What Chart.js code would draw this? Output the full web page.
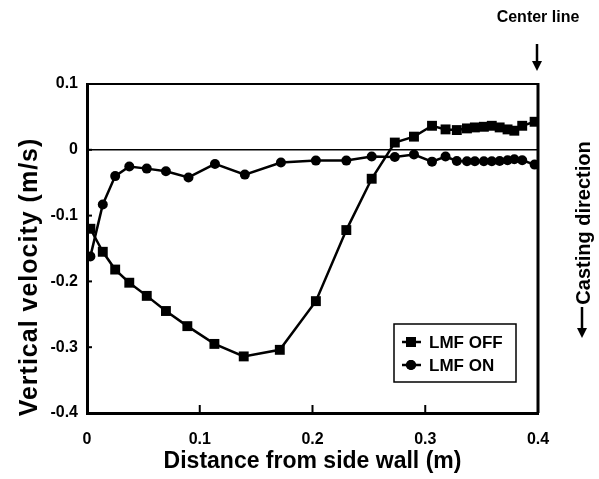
<!DOCTYPE html>
<html>
<head>
<meta charset="utf-8">
<script src="https://cdn.jsdelivr.net/npm/chart.js@4/dist/chart.umd.min.js"></script>
<style>
  html, body { margin: 0; padding: 0; background: #fff; }
  #wrap { width: 599px; height: 479px; }
</style>
</head>
<body>
<div id="wrap"><canvas id="myChart" width="599" height="479"></canvas></div>
<script>
// distance from side wall (m)
const offX = [0.003, 0.014, 0.025, 0.0375, 0.053, 0.070, 0.089, 0.113, 0.139, 0.171, 0.203, 0.230, 0.2525, 0.273, 0.290, 0.306, 0.318, 0.328, 0.337, 0.344, 0.352, 0.359, 0.366, 0.373, 0.379, 0.386, 0.397];
const offY = [-0.120, -0.155, -0.182, -0.202, -0.222, -0.245, -0.268, -0.295, -0.314, -0.304, -0.230, -0.122, -0.044, 0.011, 0.020, 0.0365, 0.031, 0.030, 0.0325, 0.034, 0.035, 0.0365, 0.034, 0.031, 0.029, 0.0365, 0.0426];
const onX = [0.003, 0.014, 0.025, 0.0375, 0.053, 0.070, 0.090, 0.1135, 0.140, 0.172, 0.203, 0.230, 0.2525, 0.273, 0.290, 0.306, 0.318, 0.328, 0.337, 0.344, 0.352, 0.359, 0.366, 0.373, 0.379, 0.386, 0.397];
const onY = [-0.162, -0.083, -0.040, -0.0255, -0.0286, -0.0326, -0.042, -0.0215, -0.0377, -0.0194, -0.0164, -0.0164, -0.0103, -0.011, -0.0072, -0.018, -0.0103, -0.017, -0.0174, -0.0174, -0.0174, -0.0174, -0.017, -0.016, -0.0143, -0.016, -0.0225];
const seriesNames = ["LMF OFF", "LMF ON"];
const xTicks = [0, 0.1, 0.2, 0.3, 0.4];
const yTicks = [-0.4, -0.3, -0.2, -0.1, 0, 0.1];

const FONT = "'Liberation Sans', Arial, sans-serif";

function pairs(xs, ys) {
  return xs.map((x, i) => ({ x: x, y: ys[i] }));
}

function downArrow(ctx, x, y0, y1) {
  ctx.lineWidth = 2.5;
  ctx.beginPath();
  ctx.moveTo(x, y0);
  ctx.lineTo(x, y1 - 8);
  ctx.stroke();
  ctx.beginPath();
  ctx.moveTo(x - 5, y1 - 10);
  ctx.lineTo(x + 5, y1 - 10);
  ctx.lineTo(x, y1);
  ctx.closePath();
  ctx.fill();
}

// frame, inner ticks, legend and side notes
const extras = {
  id: "extras",
  afterDraw(chart) {
    const ctx = chart.ctx;
    const a = chart.chartArea;
    const xs = chart.scales.x, ys = chart.scales.y;
    ctx.save();
    ctx.strokeStyle = "#000";
    ctx.fillStyle = "#000";

    // top and right of the frame
    ctx.lineWidth = 2;
    ctx.beginPath();
    ctx.moveTo(a.left, a.top);
    ctx.lineTo(a.right, a.top);
    ctx.stroke();
    ctx.lineWidth = 3;
    ctx.beginPath();
    ctx.moveTo(a.right, a.top - 1);
    ctx.lineTo(a.right, a.bottom);
    ctx.stroke();

    // inward tick marks
    ctx.lineWidth = 2;
    xTicks.slice(1, -1).forEach(v => {
      const p = xs.getPixelForValue(v);
      ctx.beginPath();
      ctx.moveTo(p, a.bottom);
      ctx.lineTo(p, a.bottom - 8);
      ctx.stroke();
    });
    yTicks.slice(1, -1).forEach(v => {
      const p = ys.getPixelForValue(v);
      ctx.beginPath();
      ctx.moveTo(a.left, p);
      ctx.lineTo(a.left + 5, p);
      ctx.stroke();
    });

    // legend box
    const lx = 394, ly = 324, lw = 122, lh = 58;
    ctx.lineWidth = 1.5;
    ctx.strokeRect(lx, ly, lw, lh);
    ctx.font = "bold 17px " + FONT;
    ctx.textBaseline = "middle";
    chart.data.datasets.forEach((ds, i) => {
      const yy = ly + 18 + i * 23;
      ctx.lineWidth = ds.borderWidth;
      ctx.beginPath();
      ctx.moveTo(lx + 8, yy);
      ctx.lineTo(lx + 27, yy);
      ctx.stroke();
      Chart.helpers.drawPoint(ctx, { pointStyle: ds.pointStyle, radius: ds.pointRadius, rotation: 0, borderWidth: 0 }, lx + 17, yy);
      ctx.fill();
      ctx.fillText(ds.label, lx + 35, yy + 1);
    });

    // y axis title
    ctx.save();
    ctx.translate(30, 277);
    ctx.rotate(-Math.PI / 2);
    ctx.font = "bold 25px " + FONT;
    ctx.letterSpacing = "1px";
    ctx.textAlign = "center";
    ctx.textBaseline = "middle";
    ctx.fillText("Vertical velocity (m/s)", 0, 0);
    ctx.restore();

    // casting direction note
    ctx.save();
    ctx.translate(584, 223);
    ctx.rotate(-Math.PI / 2);
    ctx.font = "bold 20px " + FONT;
    ctx.textAlign = "center";
    ctx.textBaseline = "middle";
    ctx.fillText("Casting direction", 0, 0);
    ctx.restore();
    downArrow(ctx, 582, 307, 338);

    // center line note
    ctx.font = "bold 16px " + FONT;
    ctx.textAlign = "center";
    ctx.textBaseline = "middle";
    ctx.fillText("Center line", 538, 18);
    downArrow(ctx, 537, 44, 71);

    ctx.restore();
  }
};

const ctx = document.getElementById("myChart").getContext("2d");
const myChart = new Chart(ctx, {
  type: "scatter",
  data: {
    datasets: [
      {
        label: seriesNames[0],
        data: pairs(offX, offY),
        showLine: true,
        borderColor: "#000",
        backgroundColor: "#000",
        borderWidth: 2.5,
        pointStyle: "rect",
        pointRadius: 7,
        pointBorderWidth: 0
      },
      {
        label: seriesNames[1],
        data: pairs(onX, onY),
        showLine: true,
        borderColor: "#000",
        backgroundColor: "#000",
        borderWidth: 2.5,
        pointStyle: "circle",
        pointRadius: 5,
        pointBorderWidth: 0
      }
    ]
  },
  options: {
    responsive: false,
    animation: false,
    layout: { padding: { top: 84, right: 61, left: 0, bottom: 0 } },
    plugins: {
      legend: { display: false },
      tooltip: { enabled: false }
    },
    scales: {
      x: {
        type: "linear",
        min: 0,
        max: 0.4,
        afterBuildTicks: s => { s.ticks = xTicks.map(v => ({ value: v })); },
        afterFit: s => { s.height = 66; },
        grid: { display: false },
        border: { display: true, color: "#000", width: 3 },
        ticks: {
          color: "#000",
          font: { family: FONT, size: 16, weight: "bold" },
          padding: 9,
          maxRotation: 0,
          callback: v => (v === 0 ? "0" : v.toFixed(1))
        },
        title: {
          display: true,
          text: "Distance from side wall (m)",
          color: "#000",
          font: { family: FONT, size: 23, weight: "bold" },
          padding: { top: 2 }
        }
      },
      y: {
        type: "linear",
        min: -0.4,
        max: 0.1,
        afterBuildTicks: s => { s.ticks = yTicks.map(v => ({ value: v })); },
        afterFit: s => { s.width = 87; },
        grid: {
          drawTicks: false,
          color: c => (c.tick && Math.abs(c.tick.value) < 1e-9 ? "#000" : "rgba(0,0,0,0)"),
          lineWidth: 1.5
        },
        border: { display: true, color: "#000", width: 3 },
        ticks: {
          color: "#000",
          font: { family: FONT, size: 16, weight: "bold" },
          padding: 9,
          callback: v => (Math.abs(v) < 1e-9 ? "0" : v.toFixed(1))
        }
      }
    }
  },
  plugins: [extras]
});
</script>
</body>
</html>
